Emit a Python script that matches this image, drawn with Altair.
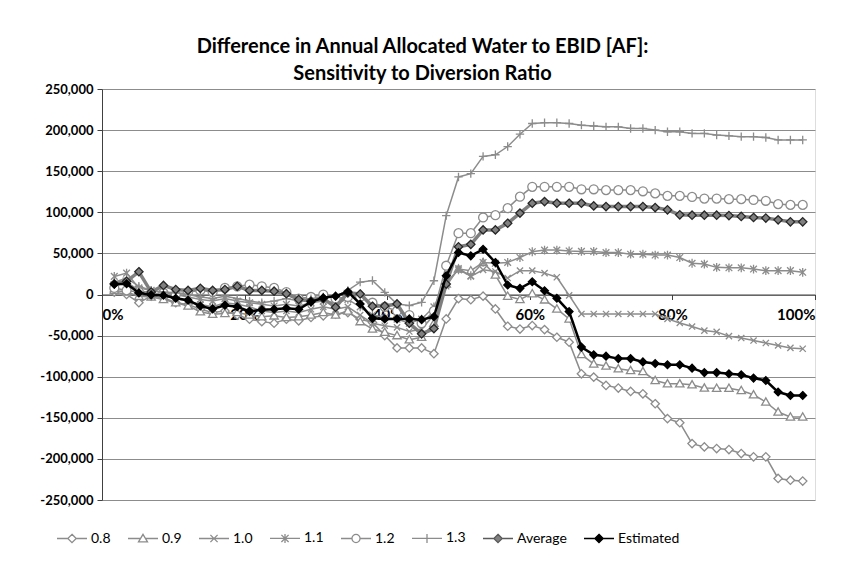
import altair as alt
import pandas as pd

# x positions: exceedance (i/58)
pct = [i / 58 for i in range(1, 58)]

series_names = ["0.8", "0.9", "1.0", "1.1", "1.2", "1.3", "Average", "Estimated"]

# values in thousands of AF
v08 = [3, 0, -10, -2, -4, -10, -12, -18, -22, -20, -25, -30, -33, -35, -30, -32, -28, -26, -24, -22,
       -30, -34, -50, -65, -65, -65, -72, -29.7, -5, -6.3, -2, -17.6, -38.6, -42, -37.8, -42.7, -52, -58,
       -96.5, -100.5, -110.6, -113.8, -117.9, -120.8, -132.9, -151, -156, -181.4, -185.4, -187.4, -188.6,
       -193.5, -197.5, -197.5, -223.8, -225.9, -227]
v09 = [5, 3, -2, -3, -6, -10, -14, -21, -24, -23, -22, -25, -27, -26, -28, -27, -25, -22, -25, -20,
       -33, -42, -46, -50, -55, -52, -35, 12.7, 31, 29, 39, 23.7, -2, -6, 1, -6.5, -17.6, -29.7,
       -73, -84.5, -87, -90.4, -92.5, -93.7, -104.6, -108.6, -108.6, -109.8, -113.8, -114, -114,
       -116.7, -122, -130.8, -143, -149, -149]
v10 = [10, 15, 5, 2, -2, -5, -8, -12, -15, -10, -12, -15, -20, -22, -20, -22, -18, -15, -18, -15,
       -25, -35, -38, -40, -45, -42, -25, 10, 32, 22, 30, 28, 20, 29, 29, 26, 21, -1,
       -23.7, -23.7, -23.7, -23.7, -23.7, -23.7, -23.7, -29.7, -34.6, -39, -43.9, -45.5, -50.7,
       -53, -56, -59, -62, -65, -66]
v11 = [22, 26, 8, 5, 2, 0, -3, -6, -8, -5, -8, -10, -12, -14, -12, -14, -10, -8, -10, -6,
       -15, -25, -28, -30, -35, -30, -15, 15, 30, 22.8, 39, 38, 39, 45, 52, 54, 54, 53,
       52.4, 52.4, 51, 51, 49, 49, 48, 48, 45, 38, 37, 33, 32.5, 32.5, 31, 29, 29, 29, 27]
v12 = [8, 5, 3, 0, 2, 0, 3, 5, 3, 8, 10, 12, 10, 8, 3, -5, -3, 0, -5, -3,
       -3, -10, -15, -20, -25, -35, -20, 35, 74.6, 74.6, 93.7, 96.5, 105, 119, 131, 131, 131, 131,
       128, 128, 127, 127, 127, 125.6, 123, 120, 120, 118.7, 116.7, 116.7, 116, 116, 115, 114,
       110, 109, 109]
v13 = [15, 20, 10, 5, 3, 2, 0, -3, -5, -2, -5, -8, -10, -8, -5, -8, -5, -3, -2, 5,
       15, 17, 2.6, -11.5, -13.5, -9.5, 16.7, 96, 143, 147, 168, 170, 180, 195, 208, 209, 209, 208,
       206, 205, 204, 204, 202, 202, 200, 198, 198, 196, 196, 194, 193, 192, 192, 191, 188, 188, 188]
vavg = [13, 16, 27.7, 3, 11, 6, 5, 7.5, 5, 6, 10, 5, 5, 4, 1, -6, -8, -5, -15.5, 2,
        0.6, -14.3, -14, -11.5, -35, -47.9, -41.5, 12.7, 58, 61, 78.6, 78.6, 86.7, 99, 111, 113, 111, 111,
        111, 107.8, 107, 107, 107, 107, 105.8, 103, 96.9, 96.5, 96.5, 96.5, 96, 95, 93.7, 93,
        90.8, 88.4, 88.4]
vest = [12.5, 13, 2, -0.5, -1, -4.6, -7, -14, -17.5, -13, -15, -20.5, -18.5, -18, -16.7, -18, -9, -4, -2, 3.4,
        -11.5, -29, -29.7, -29.7, -29.7, -30.6, -27, 22.8, 51, 47, 55, 39, 11.5, 7.5, 15.5, 4.6, -4.6, -20.8,
        -64, -73.4, -75, -78, -78, -82, -84, -85.5, -85.5, -89.6, -95, -95, -96.5, -97.7, -101.7,
        -104.6, -118.7, -122.8, -122.8]

all_vals = [v08, v09, v10, v11, v12, v13, vavg, vest]

rows = []
for name, vals in zip(series_names, all_vals):
    for k, (x, v) in enumerate(zip(pct, vals)):
        rows.append({"series": name, "pct": x, "value": v * 1000, "k": k})
df = pd.DataFrame(rows)

GREY = "#8c8c8c"
line_color = [GREY] * 6 + ["#7f7f7f", "#000000"]
line_width = [1.5] * 6 + [3.5, 2.5]
mk_stroke = [GREY] * 6 + ["#262626", "#000000"]
mk_fill = ["white"] * 6 + ["#808080", "#000000"]
mk_size = [70, 70, 60, 70, 80, 70, 70, 60]
mk_paths = [
    "M0,-1L1,0L0,1L-1,0Z",
    "M0,-1L1,0.75L-1,0.75Z",
    "M-0.8,-0.8L0.8,0.8M-0.8,0.8L0.8,-0.8",
    "M-0.8,-0.8L0.8,0.8M-0.8,0.8L0.8,-0.8M0,-1.05L0,1.05",
    "circle",
    "M-1,0L1,0M0,-1L0,1",
    "M0,-1L1,0L0,1L-1,0Z",
    "M0,-1L1,0L0,1L-1,0Z",
]
lg_paths = [
    "M-1,0H-0.28M0.28,0H1M0,-0.28L0.28,0L0,0.28L-0.28,0Z",
    "M-1,0H-0.17M0.17,0H1M0,-0.28L0.3,0.22L-0.3,0.22Z",
    "M-1,0H1M-0.24,-0.24L0.24,0.24M-0.24,0.24L0.24,-0.24",
    "M-1,0H1M-0.24,-0.24L0.24,0.24M-0.24,0.24L0.24,-0.24M0,-0.3V0.3",
    "M-1,0H-0.27M0.27,0H1M-0.27,0A0.27,0.27 0 1,0 0.27,0A0.27,0.27 0 1,0 -0.27,0Z",
    "M-1,0H1M0,-0.3V0.3",
    "M-1,0H-0.28M0.28,0H1M0,-0.28L0.28,0L0,0.28L-0.28,0Z",
    "M-1,0H-0.28M0.28,0H1M0,-0.28L0.28,0L0,0.28L-0.28,0Z",
]
lg_stroke = [GREY] * 6 + ["#5a5a5a", "#000000"]
lg_fill = ["white"] * 6 + ["#808080", "#000000"]
lg_width = [1.3] * 6 + [2.6, 2.2]

x_enc = alt.X("pct:Q", scale=alt.Scale(domain=[0, 1], nice=False),
              axis=alt.Axis(values=[0, 0.2, 0.4, 0.6, 0.8, 1.0], format=".0%", title=None,
                            offset=-205.5, grid=False, tickSize=5, labelPadding=8,
                            labelFontSize=15, labelFontWeight="bold", labelColor="#000000",
                            domainColor="#404040", tickColor="#404040", labelFont="Lato"))
y_enc = alt.Y("value:Q", scale=alt.Scale(domain=[-250000, 250000], nice=False),
              axis=alt.Axis(values=list(range(-250000, 250001, 50000)), title=None,
                            labelExpr="replace(format(datum.value, ',.0f'), '\u2212', '-')",
                            grid=True, gridColor="#8c8c8c", gridWidth=1, tickSize=5,
                            labelPadding=4, labelFontSize=13, labelFontWeight="bold",
                            labelColor="#000000", domainColor="#404040", tickColor="#404040",
                            labelFont="Lato"))


def make_legend():
    return alt.Legend(title=None, orient="none", legendX=-46, legendY=433,
                      direction="horizontal", columns=8, symbolSize=900, symbolOpacity=1,
                      labelFont="Lato", labelFontSize=14, labelColor="#000000",
                      labelOffset=3, columnPadding=14)


legend_layer = alt.Chart(df).mark_point(opacity=0, filled=True).encode(
    x=x_enc, y=y_enc,
    shape=alt.Shape("series:N", scale=alt.Scale(domain=series_names, range=lg_paths),
                    legend=make_legend()),
    stroke=alt.Stroke("series:N", scale=alt.Scale(domain=series_names, range=lg_stroke),
                      legend=make_legend()),
    fill=alt.Fill("series:N", scale=alt.Scale(domain=series_names, range=lg_fill),
                  legend=make_legend()),
    strokeWidth=alt.StrokeWidth("series:N", scale=alt.Scale(domain=series_names, range=lg_width),
                                legend=make_legend()),
)
layers = [legend_layer]

for i, name in enumerate(series_names):
    base = alt.Chart(df).transform_filter(alt.datum.series == name)
    ln = base.mark_line(color=line_color[i], strokeWidth=line_width[i]).encode(
        x=alt.X("pct:Q"), y=alt.Y("value:Q"), order="k:Q")
    pt = base.mark_point(shape=mk_paths[i], size=mk_size[i], filled=True, fill=mk_fill[i],
                         stroke=mk_stroke[i], strokeWidth=1.3, opacity=1).encode(
        x=alt.X("pct:Q"), y=alt.Y("value:Q"))
    layers += [ln, pt]

chart = alt.layer(*layers).properties(
    width=713, height=411,
    title=alt.Title(["Difference in Annual Allocated Water to EBID [AF]:",
                     "Sensitivity to Diversion Ratio"],
                    font="Lato", fontSize=20, fontWeight="bold", color="#000000",
                    anchor="middle", dx=-36, offset=-1, frame="group", lineHeight=27),
    autosize=alt.AutoSizeParams(type="none"),
    padding={"left": 94, "top": 81, "right": 24, "bottom": 53},
).resolve_scale(
    shape="independent", stroke="independent", fill="independent", strokeWidth="independent"
).configure_view(stroke=None).configure(background="white")

chart.save("out.html", embed_options={"renderer": "svg", "actions": False})
